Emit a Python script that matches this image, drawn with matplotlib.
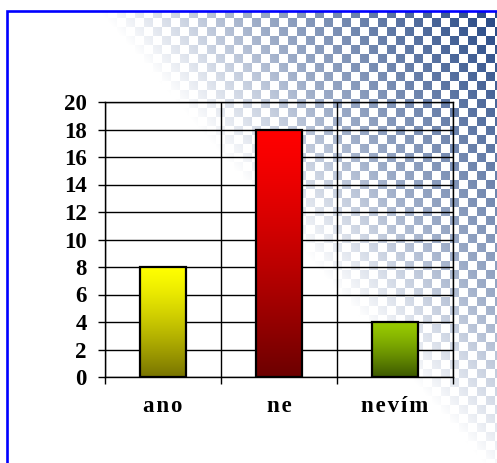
import matplotlib.pyplot as plt
import numpy as np
from matplotlib.colors import to_rgb

# data
categories = ["ano", "ne", "nevím"]
counts = [8, 18, 4]
y_ticks = [0, 2, 4, 6, 8, 10, 12, 14, 16, 18, 20]

# bar gradient colours (top -> bottom)
top_colors = ["#FFFF00", "#FF0000", "#99CC00"]
bottom_colors = ["#787400", "#6C0000", "#3C5800"]

W, H = 497, 463
fig = plt.figure(figsize=(W / 100, H / 100), dpi=100)

# --- checkered background fading towards the lower left ---
bg = fig.add_axes([0, 0, 1, 1])
bg.axis("off")
yy, xx = np.mgrid[0:H, 0:W]
checker = ((xx // 9) + (yy // 9)) % 2 == 0
d = xx - 0.85 * yy - 90
fade = np.interp(d, [0, 40, 150, 220, 400], [0, 0.12, 0.45, 0.6, 1.0])
dark = np.array([36, 70, 132]) / 255.0
amt = np.where(checker, fade, 0.0)
img = 1 - amt[..., None] * (1 - dark)
img[:12, :] = 1
img[:, :9] = 1
bg.imshow(img, extent=[0, W, H, 0], aspect="auto", interpolation="bilinear")
bg.set_xlim(0, W)
bg.set_ylim(H, 0)
# blue frame
bg.plot([7, 7, W + 10], [H + 10, 11, 11], color="#0000FF", lw=1.9,
        solid_joinstyle="miter", clip_on=False)

# --- main chart ---
ax = fig.add_axes([105 / W, 1 - 377 / H, 348 / W, 275 / H])
ax.patch.set_alpha(0)

x = np.arange(len(categories))
bars = ax.bar(x, counts, width=0.39, facecolor="none", edgecolor="black",
              linewidth=1.6, zorder=4)

for bar, c_top, c_bot in zip(bars, top_colors, bottom_colors):
    t = np.linspace(0, 1, 256) ** 1.3
    top = np.array(to_rgb(c_top))
    bot = np.array(to_rgb(c_bot))
    grad = top[None, :] + (bot - top)[None, :] * t[:, None]
    grad = grad[:, None, :]
    x0, w, h = bar.get_x(), bar.get_width(), bar.get_height()
    ax.imshow(grad, extent=[x0, x0 + w, 0, h], aspect="auto",
              origin="upper", zorder=3)

ax.set_xlim(-0.5, 2.5)
ax.set_ylim(0, 20)
ax.set_yticks(y_ticks)
ax.set_xticks(x)
ax.set_xticklabels(["\u200a".join(c) for c in categories])
ax.set_xticks([-0.5, 0.5, 1.5, 2.5], minor=True)

ax.yaxis.grid(True, color="black", linewidth=1)
ax.xaxis.grid(True, which="minor", color="black", linewidth=1)
ax.set_axisbelow(True)

for s in ax.spines.values():
    s.set_color("black")
    s.set_linewidth(1)

ax.tick_params(axis="y", direction="out", length=5, width=1, pad=8,
               labelsize=16.5)
ax.tick_params(axis="x", which="major", length=0, pad=13.5, labelsize=16.5)
ax.tick_params(axis="x", which="minor", direction="out", length=5, width=1)

for lab in ax.get_yticklabels() + ax.get_xticklabels():
    lab.set_family(["Liberation Serif", "DejaVu Serif"])
    lab.set_fontweight("bold")

fig.savefig("out.png", dpi=100)
